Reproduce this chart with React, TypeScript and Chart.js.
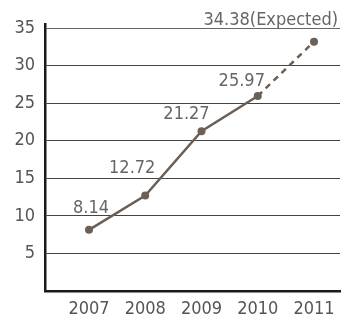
import React, { useEffect, useRef } from "react";
import { Chart, registerables } from "chart.js";

Chart.register(...registerables);

const years = [2007, 2008, 2009, 2010, 2011];
const values = [8.14, 12.72, 21.27, 25.97, 33.2];
const valueLabels = ["8.14", "12.72", "21.27", "25.97", "34.38(Expected)"];
const yTicks = [5, 10, 15, 20, 25, 30, 35];

const FONT = "'DejaVu Sans Condensed', 'DejaVu Sans', sans-serif";
const LINE = "#6b5f56";

const labelPlugin = {
  id: "valueLabels",
  afterDatasetsDraw(chart: any) {
    const ctx = chart.ctx;
    const meta = chart.getDatasetMeta(0);
    const offs = [
      { dx: 2, dy: -17, align: "center" },
      { dx: -13, dy: -22, align: "center" },
      { dx: -15, dy: -12, align: "center" },
      { dx: -16, dy: -10, align: "center" },
      { dx: 24, dy: -17, align: "right" },
    ];
    ctx.save();
    ctx.font = `18px ${FONT}`;
    ctx.fillStyle = "#666";
    ctx.textBaseline = "alphabetic";
    meta.data.forEach((pt: any, i: number) => {
      const o = offs[i];
      ctx.textAlign = o.align;
      ctx.fillText(valueLabels[i], pt.x + o.dx, pt.y + o.dy);
    });
    ctx.restore();
  },
};

export default function App() {
  const ref = useRef<HTMLCanvasElement>(null);
  useEffect(() => {
    const chart = new Chart(ref.current!, {
      type: "line",
      data: {
        datasets: [
          {
            data: years.map((y, i) => ({ x: y, y: values[i] })),
            borderColor: LINE,
            backgroundColor: LINE,
            borderWidth: 2.5,
            pointRadius: 4,
            pointBackgroundColor: LINE,
            pointBorderWidth: 0,
            tension: 0,
            segment: {
              borderDash: (c: any) => (c.p1DataIndex === years.length - 1 ? [6, 5] : undefined),
            },
          },
        ],
      },
      options: {
        animation: false,
        responsive: false,
        maintainAspectRatio: false,
        layout: { padding: { left: 0, right: 10, top: 24, bottom: 0 } },
        plugins: { legend: { display: false }, tooltip: { enabled: false } },
        scales: {
          x: {
            type: "linear",
            min: 2006.218,
            max: 2011.462,
            afterBuildTicks: (s: any) => {
              s.ticks = years.map((v) => ({ value: v }));
            },
            afterFit: (s: any) => {
              s.height = 30;
            },
            grid: { display: false, drawTicks: false },
            border: { display: true, color: "#1a1a1a", width: 2.5 },
            ticks: {
              padding: 8,
              color: "#555",
              font: { family: FONT, size: 18 },
              callback: (v: any) => String(v),
              maxRotation: 0,
              autoSkip: false,
            },
          },
          y: {
            min: 0,
            max: 35.55,
            afterBuildTicks: (s: any) => {
              s.ticks = [0, ...yTicks].map((v) => ({ value: v }));
            },
            afterFit: (s: any) => {
              s.width = 45;
            },
            grid: {
              color: (c: any) => (c.tick && c.tick.value === 35 ? "#666" : "#444"),
              lineWidth: 1,
              drawTicks: false,
            },
            border: { display: true, color: "#1a1a1a", width: 2.5 },
            ticks: {
              padding: 10,
              color: "#555",
              font: { family: FONT, size: 18 },
              callback: (v: any) => (v === 0 ? "" : String(v)),
            },
          },
        },
      },
      plugins: [labelPlugin],
    });
    return () => chart.destroy();
  }, []);
  return (
    <div style={{ position: "fixed", left: 0, top: 0, width: 350, height: 321, background: "#fff" }}>
      <canvas ref={ref} width={350} height={321} />
    </div>
  );
}
